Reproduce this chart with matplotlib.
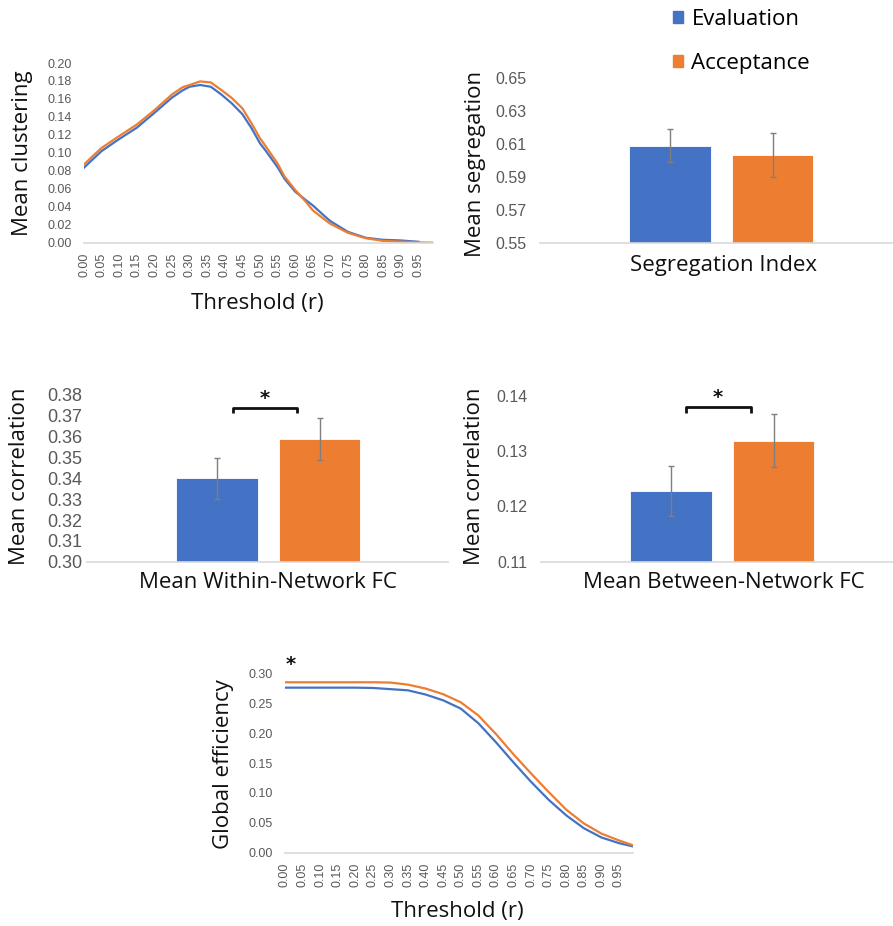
import numpy as np
import matplotlib
matplotlib.use('Agg')
import matplotlib.pyplot as plt

################################################################################################
"Data"
################################################################################################
groups = ['Evaluation', 'Acceptance']
colors = ['#4472C4', '#ED7D31']

# mean clustering vs threshold
clust_thr = [0.00, 0.02, 0.05, 0.10, 0.15, 0.20, 0.25, 0.28, 0.30, 0.33, 0.36, 0.39, 0.42,
             0.45, 0.475, 0.50, 0.515, 0.55, 0.57, 0.60, 0.63, 0.65, 0.685, 0.70, 0.75,
             0.80, 0.85, 0.90, 0.95, 0.99]
clust_eval = [0.0835, 0.091, 0.102, 0.1154, 0.128, 0.1445, 0.1615, 0.1695, 0.1736, 0.1755,
              0.1736, 0.165, 0.155, 0.143, 0.128, 0.1106, 0.103, 0.084, 0.0709, 0.0568,
              0.0475, 0.0415, 0.029, 0.024, 0.012, 0.0055, 0.0032, 0.0025, 0.001, np.nan]
clust_acc = [0.087, 0.0946, 0.1055, 0.1187, 0.1315, 0.1475, 0.165, 0.173, 0.1755, 0.1795,
             0.1784, 0.170, 0.161, 0.1495, 0.1335, 0.1162, 0.108, 0.088, 0.0735, 0.0587,
             0.0456, 0.036, 0.0253, 0.021, 0.011, 0.005, 0.002, 0.0012, 0.0003, 0.0]

# segregation index
seg_mean = [0.6092, 0.6035]
seg_err = [0.0099, 0.0132]

# within / between network FC
within_mean = [0.3400, 0.3589]
within_err = [0.0098, 0.0103]
between_mean = [0.1228, 0.1319]
between_err = [0.0045, 0.0048]

# global efficiency vs threshold
eff_thr = [0.00, 0.05, 0.10, 0.15, 0.20, 0.25, 0.30, 0.35, 0.40, 0.45, 0.50,
           0.55, 0.60, 0.65, 0.70, 0.75, 0.80, 0.85, 0.90, 0.95, 0.99]
eff_eval = [0.276, 0.276, 0.276, 0.276, 0.276, 0.2755, 0.2735, 0.2715, 0.2645, 0.2548, 0.241,
            0.2165, 0.1848, 0.151, 0.1185, 0.0885, 0.0625, 0.041, 0.0255, 0.016, 0.0105]
eff_acc = [0.285, 0.285, 0.285, 0.285, 0.285, 0.285, 0.2845, 0.281, 0.2745, 0.265, 0.2515,
           0.2295, 0.1985, 0.1645, 0.1325, 0.1015, 0.072, 0.049, 0.032, 0.0205, 0.0125]

################################################################################################
"Layout helpers (pixel coords of the 893x926 image)"
################################################################################################
W, H = 893, 926
fig = plt.figure(figsize=(W / 100, H / 100), dpi=100)

LABEL_FONT = ['Open Sans', 'DejaVu Sans']
TICK_FONT = ['Liberation Sans', 'DejaVu Sans']
TICK_COL = '#595959'
AXIS_COL = '#d9d9d9'
LABEL_SIZE = 16


def box(l, t, r, b):
    return fig.add_axes([l / W, 1 - b / H, (r - l) / W, (b - t) / H])


def ftext(x, y, s, size=LABEL_SIZE, rot=0, **kw):
    fig.text(x / W, 1 - y / H, s, fontsize=size, rotation=rot, ha='center', va='center',
             family=LABEL_FONT, color='#111111', **kw)


def excel_style(ax, tick_size, ypad):
    for sp in ['top', 'right', 'left']:
        ax.spines[sp].set_visible(False)
    ax.spines['bottom'].set_color(AXIS_COL)
    ax.spines['bottom'].set_linewidth(1.2)
    ax.tick_params(length=0, colors=TICK_COL, labelsize=tick_size)
    ax.tick_params(axis='y', pad=ypad)
    for lab in ax.get_xticklabels() + ax.get_yticklabels():
        lab.set_family(TICK_FONT)


def line_panel(ax, thr, ys, yticks):
    for y, c, g in zip(ys, colors, groups):
        ax.plot(thr, y, color=c, lw=1.6, label=g)
    ax.set_xlim(0, 0.99)
    ax.set_ylim(yticks[0], yticks[-1])
    ax.set_yticks(yticks)
    ax.set_yticklabels(['%.2f' % v for v in yticks])
    xt = np.arange(0, 20) * 0.05
    ax.set_xticks(xt)
    ax.set_xticklabels(['%.2f' % v for v in xt], rotation=90)
    excel_style(ax, 9, 9)
    ax.tick_params(axis='x', pad=7)


def bar_panel(ax, means, errs, yticks, tick_size, ypad, fmt):
    pos = [0.36, 0.645]
    bars = ax.bar(pos, means, width=0.225, color=colors, edgecolor='white', linewidth=0.6,
                  yerr=errs, ecolor='#7f7f7f',
                  error_kw=dict(elinewidth=1.0, capsize=2.5, capthick=1.0))
    ax.set_xlim(0, 1)
    ax.set_ylim(yticks[0], yticks[-1])
    ax.set_yticks(yticks)
    ax.set_yticklabels([fmt % v for v in yticks])
    ax.set_xticks([])
    excel_style(ax, tick_size, ypad)
    return bars


def bracket(ax, x1, x2, y_top, y_low):
    ax.plot([x1, x1, x2, x2], [y_low, y_top, y_top, y_low], color='#111111', lw=2.0,
            clip_on=False, solid_capstyle='butt')


################################################################################################
"Panel 1: clustering"
################################################################################################
ax1 = box(84, 63, 432.5, 242.7)
line_panel(ax1, clust_thr, [clust_eval, clust_acc], np.round(np.arange(0, 0.201, 0.02), 2))
ftext(23, 153, 'Mean clustering', rot=90)
ftext(257, 303, 'Threshold (r)')

################################################################################################
"Panel 2: segregation"
################################################################################################
ax2 = box(540, 78.3, 901, 243.3)
bars = bar_panel(ax2, seg_mean, seg_err, np.round(np.arange(0.55, 0.651, 0.02), 2), 11.5, 9.5, '%.2f')
ftext(475, 164, 'Mean segregation', rot=90)
ftext(723, 265, 'Segregation Index')

handles = [plt.Rectangle((0, 0), 1, 1, color=c) for c in colors]
fig.legend(handles, groups, loc='upper left', bbox_to_anchor=(657 / W, 1 + 7 / H),
           frameon=False, handlelength=0.45, handleheight=0.45, handletextpad=0.4,
           labelspacing=1.05, borderpad=0.2, prop={'family': LABEL_FONT, 'size': 16})

################################################################################################
"Panel 3: within-network FC"
################################################################################################
ax3 = box(87, 395, 448, 561.7)
bar_panel(ax3, within_mean, within_err, np.round(np.arange(0.30, 0.381, 0.01), 2), 13, 3.6, '%.2f')
bracket(ax3, 0.404, 0.582, 0.3739, 0.3712)
ax3.text(0.493, 0.3784, '*', ha='center', va='center', fontsize=14, fontweight='bold',
         color='#111111', clip_on=False)
ftext(20, 476, 'Mean correlation', rot=90)
ftext(268, 582, 'Mean Within-Network FC')

################################################################################################
"Panel 4: between-network FC"
################################################################################################
ax4 = box(541, 396, 902, 561.7)
bar_panel(ax4, between_mean, between_err, np.round(np.arange(0.11, 0.141, 0.01), 2), 11.5, 9.5, '%.2f')
bracket(ax4, 0.402, 0.582, 0.1380, 0.1370)
ax4.text(0.49, 0.1397, '*', ha='center', va='center', fontsize=14, fontweight='bold',
         color='#111111', clip_on=False)
ftext(475, 476, 'Mean correlation', rot=90)
ftext(724, 582, 'Mean Between-Network FC')

################################################################################################
"Panel 5: global efficiency"
################################################################################################
ax5 = box(285, 673.3, 633, 852.7)
line_panel(ax5, eff_thr, [eff_eval, eff_acc], np.round(np.arange(0, 0.301, 0.05), 2))
ax5.text(0.015, 0.314, '*', ha='center', va='center', fontsize=14, fontweight='bold',
         color='#111111', clip_on=False)
ftext(223, 764, 'Global efficiency', rot=90)
ftext(457, 911, 'Threshold (r)')

fig.savefig('out.png', dpi=100)
